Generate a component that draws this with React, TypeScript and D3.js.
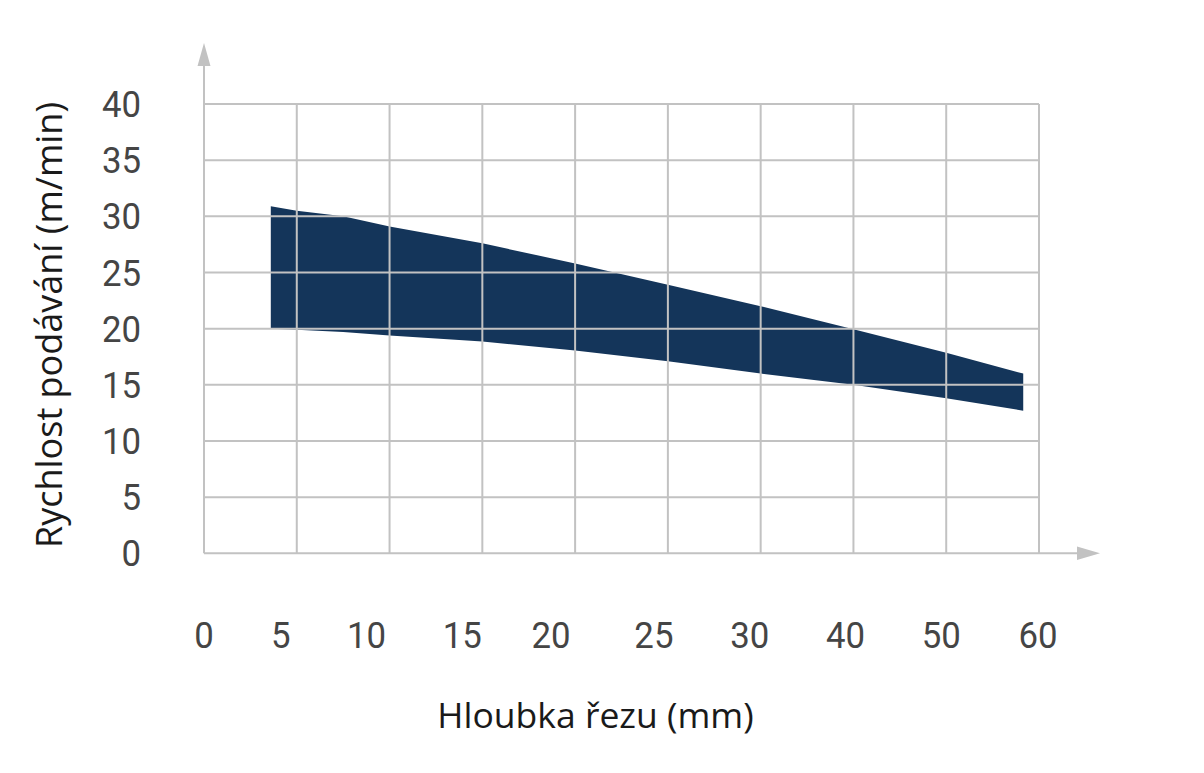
import React from "react";
import * as d3 from "d3";

const xTickValues = [0, 5, 10, 15, 20, 25, 30, 40, 50, 60];
const yTickValues = [0, 5, 10, 15, 20, 25, 30, 35, 40];

const bandDepth = [3.6, 5, 7.5, 10, 15, 20, 25, 30, 40, 50, 58.3];
const bandUpper = [30.9, 30.5, 30.0, 29.1, 27.6, 25.8, 23.9, 22.0, 19.95, 17.85, 16.0];
const bandLower = [20.0, 19.9, 19.7, 19.4, 18.85, 18.05, 17.1, 16.0, 15.0, 13.8, 12.7];

// small horizontal nudges of x tick labels as seen in the reference (layout, px)
const xLabelNudge = [0, -16, -23, -20, -24, -14, -11, -8, -5, -1];

const X_LABEL = "Hloubka řezu (mm)";
const Y_LABEL = "Rychlost podávání (m/min)";

export default function App() {
  const W = 1204, H = 773;
  const left = 204, right = 1039, top = 104, bottom = 553.3;
  const step = (right - left) / (xTickValues.length - 1);

  const x = d3
    .scaleLinear()
    .domain(xTickValues)
    .range(xTickValues.map((_, i) => left + i * step));
  const y = d3.scaleLinear().domain([0, 40]).range([bottom, top]);

  const bandData = bandDepth.map((d, i) => ({ d, lo: bandLower[i], hi: bandUpper[i] }));
  const area = d3
    .area<{ d: number; lo: number; hi: number }>()
    .x((p) => x(p.d))
    .y0((p) => y(p.lo))
    .y1((p) => y(p.hi));

  const grid = "#c2c2c2";
  const tickFont = "Roboto, 'DejaVu Sans', sans-serif";
  const titleFont = "'Open Sans', 'Noto Sans', sans-serif";

  const hLines = yTickValues.filter((v) => v > 0);
  const vLines = xTickValues.filter((v) => v > 0);

  return (
    <svg width={W} height={H} style={{ position: "absolute", left: 0, top: 0, background: "#fff" }}>
      {/* band */}
      <path d={area(bandData) || ""} fill="#14355a" />
      {/* grid (drawn over band) */}
      {hLines.map((v) => (
        <line key={"h" + v} x1={left} x2={right} y1={y(v)} y2={y(v)} stroke={grid} strokeWidth={2} />
      ))}
      {vLines.map((v) => (
        <line key={"v" + v} x1={x(v)} x2={x(v)} y1={top} y2={bottom} stroke={grid} strokeWidth={2} />
      ))}
      {/* axes with arrows */}
      <line x1={left} x2={left} y1={bottom} y2={64} stroke={grid} strokeWidth={2} />
      <path d={`M${left - 6.5},66 L${left},43 L${left + 6.5},66 Z`} fill={grid} />
      <line x1={left} x2={1079} y1={bottom} y2={bottom} stroke={grid} strokeWidth={2} />
      <path d={`M1077,${bottom - 6.7} L1100,${bottom} L1077,${bottom + 6.7} Z`} fill={grid} />

      {/* y tick labels */}
      {yTickValues.map((v) => (
        <text
          key={"yl" + v}
          transform={`translate(141,${y(v)}) scale(0.94,1)`}
          dy="0.355em"
          textAnchor="end"
          fontFamily={tickFont}
          fontSize={37}
          fill="#454545"
        >
          {v}
        </text>
      ))}
      {/* x tick labels */}
      {xTickValues.map((v, i) => (
        <text
          key={"xl" + v}
          transform={`translate(${x(v) + xLabelNudge[i]},648.3) scale(0.94,1)`}
          textAnchor="middle"
          fontFamily={tickFont}
          fontSize={37}
          fill="#454545"
        >
          {v}
        </text>
      ))}
      {/* titles */}
      <text x={(438 + 753) / 2} y={728} textAnchor="middle" fontFamily={titleFont} fontSize={35.5} fill="#1a1a1a">
        {X_LABEL}
      </text>
      <text
        transform={`translate(61.7,325) rotate(-90)`}
        textAnchor="middle"
        fontFamily={titleFont}
        fontSize={36}
        fill="#1a1a1a"
      >
        {Y_LABEL}
      </text>
    </svg>
  );
}
